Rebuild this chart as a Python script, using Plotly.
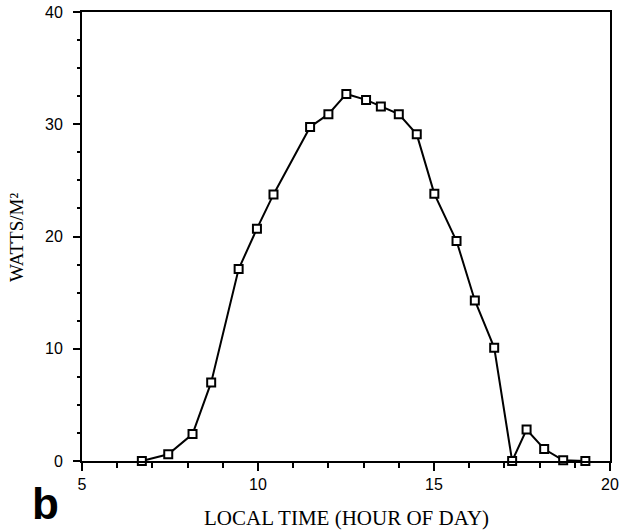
import plotly.graph_objects as go

hours = [6.7, 7.45, 8.14, 8.67, 9.45, 9.97, 10.44, 11.48, 12.0, 12.51, 13.07, 13.49, 14.0, 14.51,
         15.01, 15.64, 16.16, 16.71, 17.22, 17.63, 18.13, 18.67, 19.3]
watts = [0.0, 0.6, 2.4, 7.0, 17.1, 20.7, 23.75, 29.76, 30.9, 32.7, 32.17, 31.58, 30.9, 29.1,
         23.8, 19.6, 14.3, 10.1, 0.0, 2.8, 1.07, 0.06, 0.0]

x_ticks = [5, 10, 15, 20]
y_ticks = [0, 10, 20, 30, 40]

# desired plot area in page pixels: x 82..610, y 12..461
PW, PH = 528, 449

fig = go.Figure()
fig.add_trace(go.Scatter(
    x=hours, y=watts, mode="lines+markers",
    line=dict(color="black", width=2),
    marker=dict(symbol="square", size=8, color="white", line=dict(color="black", width=2)),
    cliponaxis=False, showlegend=False,
))

serif = "Liberation Serif, Times New Roman, serif"
sans = "Liberation Sans, Arial, sans-serif"

fig.update_layout(
    width=621, height=530,
    margin=dict(l=82, r=11, t=12, b=69, autoexpand=False),
    paper_bgcolor="white", plot_bgcolor="white",
    font=dict(family=sans, size=16, color="black"),
    xaxis=dict(
        range=[5, 20], tickvals=x_ticks, ticks="outside", ticklen=8, tickwidth=2,
        tickcolor="black", showgrid=False, zeroline=False, automargin=False,
        showline=True, linecolor="black", linewidth=2, mirror=True,
        tickfont=dict(family=sans, size=16), ticklabelstandoff=0,
        ticklabeloverflow="allow",
        minor=dict(dtick=1, ticks="outside", ticklen=5, tickwidth=2, tickcolor="black"),
    ),
    yaxis=dict(
        range=[0, 40], tickvals=y_ticks, ticks="outside", ticklen=7, tickwidth=2,
        tickcolor="black", showgrid=False, zeroline=False, automargin=False,
        showline=True, linecolor="black", linewidth=2, mirror=True,
        tickfont=dict(family=sans, size=16), ticklabelstandoff=7,
        ticklabeloverflow="allow",
        minor=dict(dtick=2.5, ticks="outside", ticklen=3, tickwidth=2, tickcolor="black"),
    ),
    annotations=[
        dict(text="<b>b</b>", x=(45 - 82) / PW, y=(461 - 503) / PH, xref="paper", yref="paper",
             xanchor="center", yanchor="middle", showarrow=False,
             font=dict(family=sans, size=44)),
        dict(text="LOCAL TIME (HOUR OF DAY)", x=(346 - 82) / PW, y=(461 - 518) / PH,
             xref="paper", yref="paper", xanchor="center", yanchor="middle", showarrow=False,
             font=dict(family=serif, size=21)),
        dict(text="WATTS/M²", x=(17 - 82) / PW, y=(461 - 238) / PH, textangle=-90,
             xref="paper", yref="paper", xanchor="center", yanchor="middle", showarrow=False,
             font=dict(family=serif, size=19)),
    ],
)

fig.write_html("out.html", config={"displayModeBar": False},
               post_script="document.body.style.margin='0px';")
